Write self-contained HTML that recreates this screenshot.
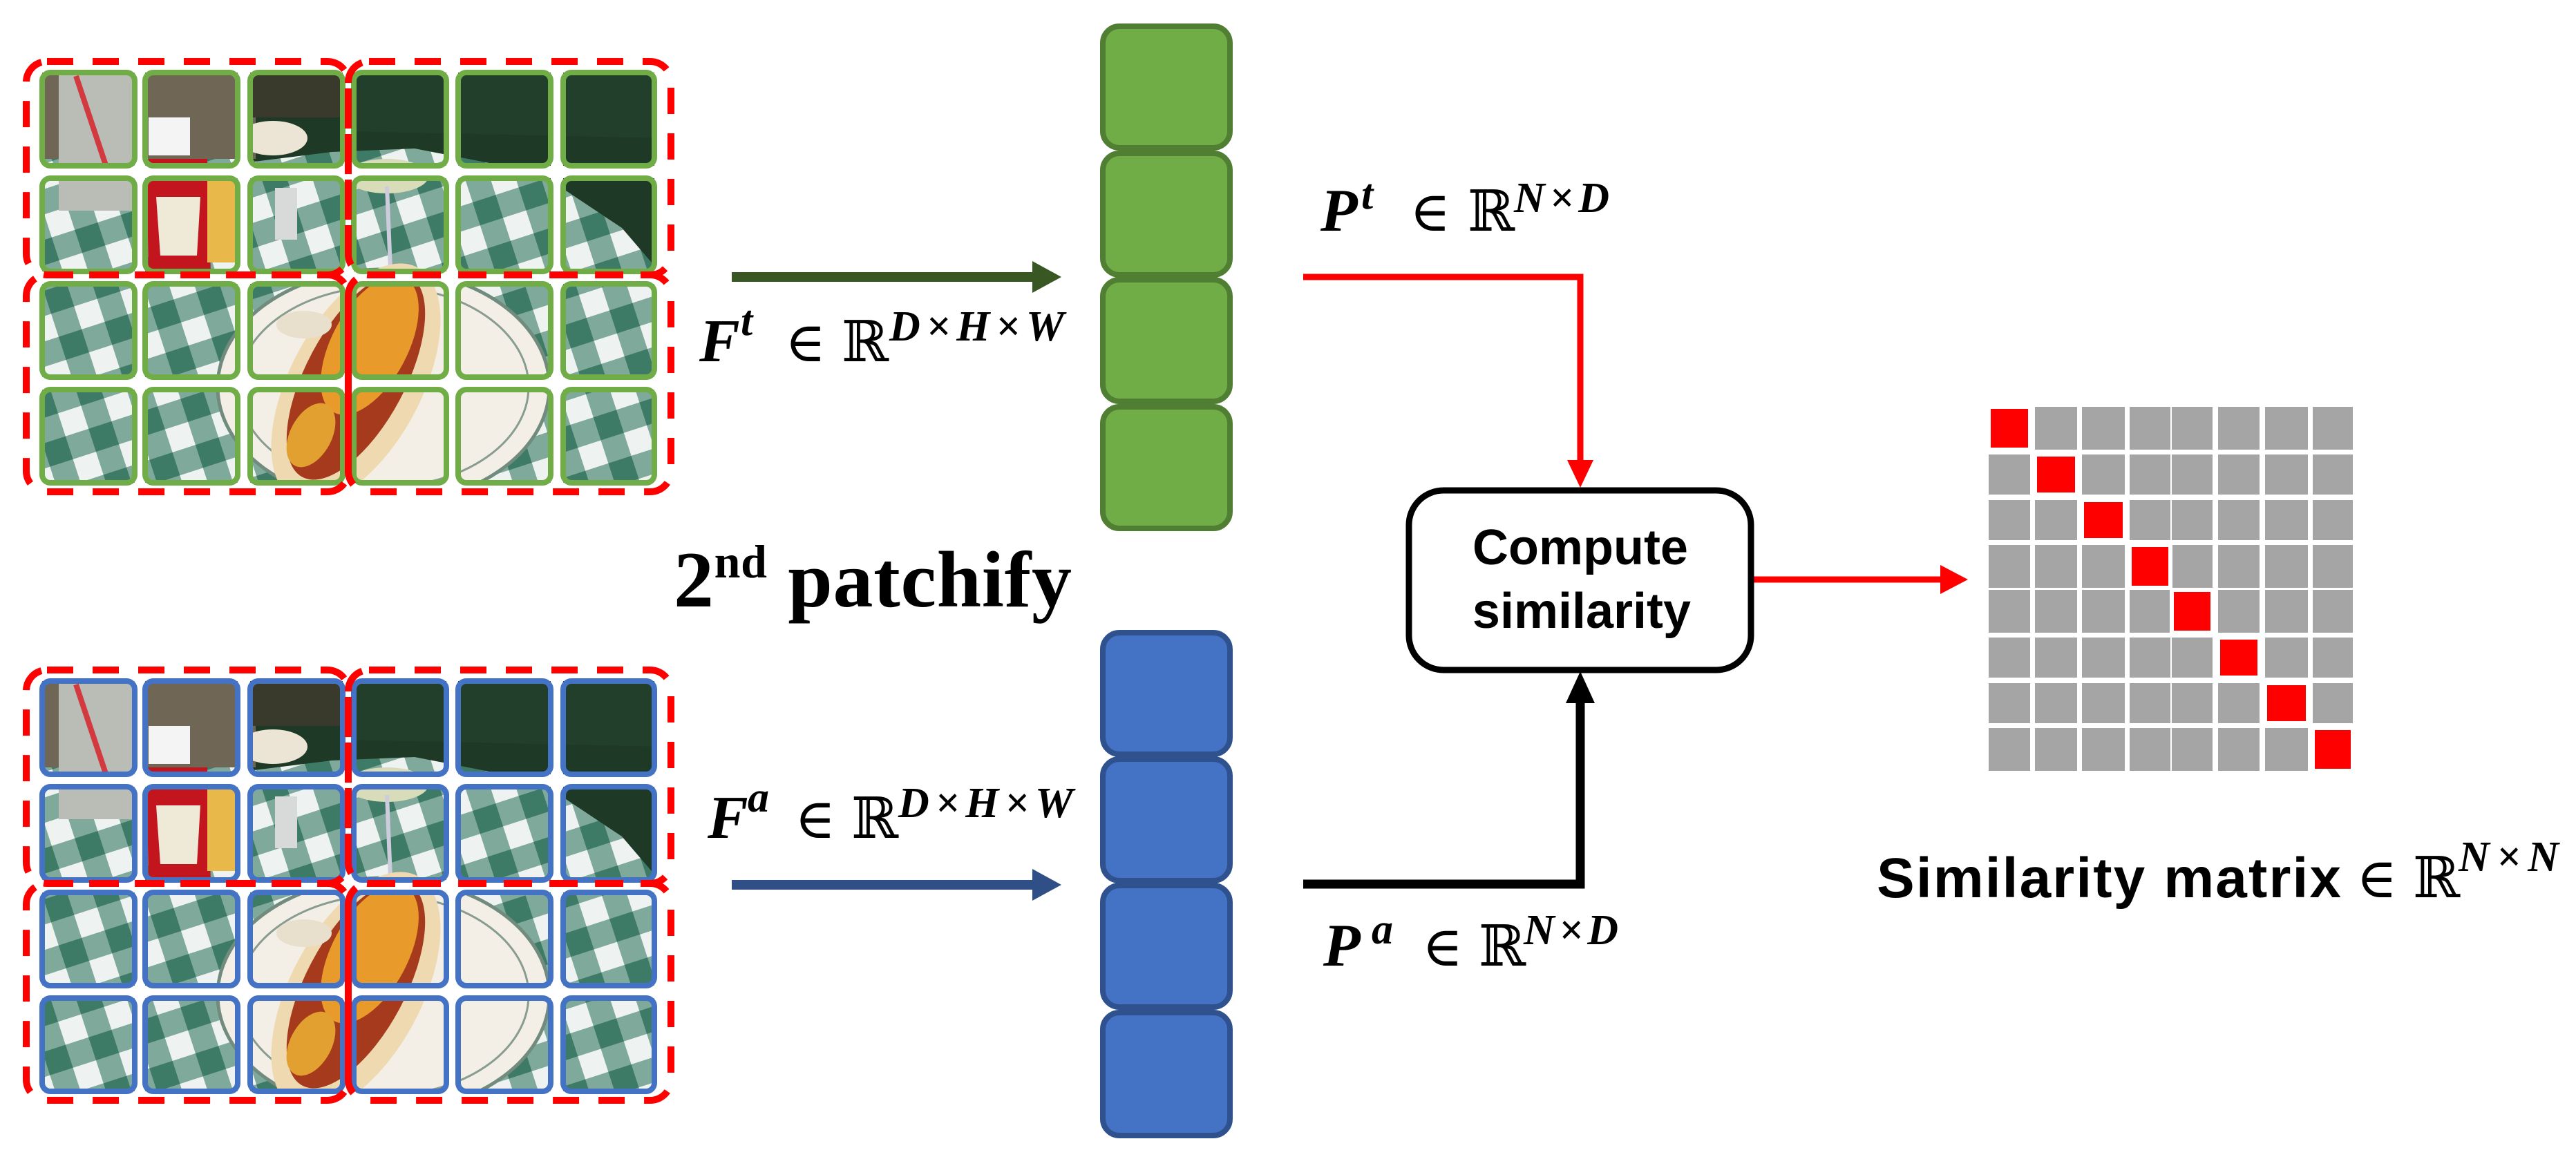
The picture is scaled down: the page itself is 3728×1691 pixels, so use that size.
<!DOCTYPE html>
<html><head><meta charset="utf-8">
<style>html,body{margin:0;padding:0;background:#fff;}svg{display:block;}</style>
</head><body>
<svg width="3728" height="1691" viewBox="0 0 3728 1691" xmlns="http://www.w3.org/2000/svg">
<defs>
  <pattern id="chk" width="70" height="70" patternUnits="userSpaceOnUse" patternTransform="rotate(-18)">
    <rect width="70" height="70" fill="#eef3f1"/>
    <rect width="35" height="70" fill="#7fa99a"/>
    <rect width="70" height="35" fill="#7fa99a"/>
    <rect width="35" height="35" fill="#3d7b66"/>
  </pattern>
  <g id="scene">
    <rect x="40" y="90" width="930" height="630" fill="url(#chk)"/>
    <polygon points="360,100 960,100 960,400 900,330 780,250 600,215 480,220 360,235" fill="#1e3a26"/>
    <polygon points="500,100 960,100 960,200 500,190" fill="#223f2b"/>
    <rect x="50" y="100" width="320" height="130" fill="#6f6656"/>
    <rect x="360" y="100" width="140" height="70" fill="#3a3a2c"/>
    <rect x="85" y="105" width="110" height="200" fill="#b9bdb6"/>
    <line x1="110" y1="110" x2="160" y2="260" stroke="#d23a40" stroke-width="8"/>
    <rect x="215" y="170" width="60" height="55" fill="#f4f4f4"/>
    <path d="M212,230 L300,230 L305,395 L215,395 Z" fill="#c2151d"/>
    <path d="M226,285 L290,285 L285,370 L232,370 Z" fill="#efe9d8"/>
    <rect x="300" y="240" width="40" height="140" fill="#e8b84a"/>
    <ellipse cx="395" cy="200" rx="50" ry="25" fill="#ece5d6"/>
    <rect x="398" y="272" width="32" height="75" fill="#d7dad9"/>
    <ellipse cx="560" cy="255" rx="60" ry="25" fill="#d8dcb8"/>
    <line x1="560" y1="270" x2="565" y2="390" stroke="#ccd" stroke-width="6"/>
    <ellipse cx="555" cy="560" rx="240" ry="170" fill="#f3efe6" stroke="#718c7e" stroke-width="5"/>
    <ellipse cx="555" cy="560" rx="210" ry="145" fill="none" stroke="#889c90" stroke-width="3"/>
    <ellipse cx="515" cy="555" rx="190" ry="95" transform="rotate(-62 515 555)" fill="#efd9b0"/>
    <ellipse cx="515" cy="545" rx="165" ry="72" transform="rotate(-62 515 545)" fill="#a53a1c"/>
    <ellipse cx="535" cy="500" rx="110" ry="55" transform="rotate(-62 535 500)" fill="#e89a2a"/>
    <ellipse cx="450" cy="630" rx="50" ry="30" transform="rotate(-62 450 630)" fill="#e2a030"/>
    <ellipse cx="440" cy="470" rx="40" ry="20" fill="#e8e0cc"/>
  </g>
  <clipPath id="cp">
    <rect x="61" y="105" width="134" height="135"/><rect x="210" y="105" width="134" height="135"/><rect x="362" y="105" width="134" height="135"/><rect x="512" y="105" width="134" height="135"/><rect x="663" y="105" width="134" height="135"/><rect x="815" y="105" width="132" height="135"/>
    <rect x="61" y="258" width="134" height="135"/><rect x="210" y="258" width="134" height="135"/><rect x="362" y="258" width="134" height="135"/><rect x="512" y="258" width="134" height="135"/><rect x="663" y="258" width="134" height="135"/><rect x="815" y="258" width="132" height="135"/>
    <rect x="61" y="411" width="134" height="135"/><rect x="210" y="411" width="134" height="135"/><rect x="362" y="411" width="134" height="135"/><rect x="512" y="411" width="134" height="135"/><rect x="663" y="411" width="134" height="135"/><rect x="815" y="411" width="132" height="135"/>
    <rect x="61" y="564" width="134" height="135"/><rect x="210" y="564" width="134" height="135"/><rect x="362" y="564" width="134" height="135"/><rect x="512" y="564" width="134" height="135"/><rect x="663" y="564" width="134" height="135"/><rect x="815" y="564" width="132" height="135"/>
  </clipPath>
  <g id="borders" fill="none" stroke-width="8">
    <rect x="61" y="105" width="134" height="135" rx="12"/><rect x="210" y="105" width="134" height="135" rx="12"/><rect x="362" y="105" width="134" height="135" rx="12"/><rect x="512" y="105" width="134" height="135" rx="12"/><rect x="663" y="105" width="134" height="135" rx="12"/><rect x="815" y="105" width="132" height="135" rx="12"/>
    <rect x="61" y="258" width="134" height="135" rx="12"/><rect x="210" y="258" width="134" height="135" rx="12"/><rect x="362" y="258" width="134" height="135" rx="12"/><rect x="512" y="258" width="134" height="135" rx="12"/><rect x="663" y="258" width="134" height="135" rx="12"/><rect x="815" y="258" width="132" height="135" rx="12"/>
    <rect x="61" y="411" width="134" height="135" rx="12"/><rect x="210" y="411" width="134" height="135" rx="12"/><rect x="362" y="411" width="134" height="135" rx="12"/><rect x="512" y="411" width="134" height="135" rx="12"/><rect x="663" y="411" width="134" height="135" rx="12"/><rect x="815" y="411" width="132" height="135" rx="12"/>
    <rect x="61" y="564" width="134" height="135" rx="12"/><rect x="210" y="564" width="134" height="135" rx="12"/><rect x="362" y="564" width="134" height="135" rx="12"/><rect x="512" y="564" width="134" height="135" rx="12"/><rect x="663" y="564" width="134" height="135" rx="12"/><rect x="815" y="564" width="132" height="135" rx="12"/>
  </g>
  <g id="dash" fill="none" stroke="#ff0000" stroke-width="10" stroke-dasharray="38 28">
    <rect x="38" y="89" width="466" height="309" rx="30"/>
    <rect x="504" y="89" width="467" height="309" rx="30"/>
    <rect x="38" y="398" width="466" height="314" rx="30"/>
    <rect x="504" y="398" width="467" height="314" rx="30"/>
  </g>
</defs>

<g>
  <use href="#scene" clip-path="url(#cp)"/>
  <use href="#borders" stroke="#70ad47"/>
  <use href="#dash"/>
</g>
<g transform="translate(0,881)">
  <use href="#scene" clip-path="url(#cp)"/>
  <use href="#borders" stroke="#4472c4"/>
  <use href="#dash"/>
</g>

<rect x="1059" y="394" width="440" height="14" fill="#385723"/>
<polygon points="1494,378 1536,401 1494,424" fill="#385723"/>
<rect x="1059" y="1274" width="440" height="14" fill="#2f4f86"/>
<polygon points="1494,1258 1536,1281 1494,1304" fill="#2f4f86"/>

<g fill="#70ad47" stroke="#507e32" stroke-width="8">
  <rect x="1596" y="38" width="184" height="176" rx="24"/>
  <rect x="1596" y="222" width="184" height="176" rx="24"/>
  <rect x="1596" y="405" width="184" height="176" rx="24"/>
  <rect x="1596" y="589" width="184" height="176" rx="24"/>
</g>
<g fill="#4472c4" stroke="#2f528f" stroke-width="8">
  <rect x="1596" y="916" width="184" height="176" rx="24"/>
  <rect x="1596" y="1099" width="184" height="176" rx="24"/>
  <rect x="1596" y="1282" width="184" height="176" rx="24"/>
  <rect x="1596" y="1466" width="184" height="178" rx="24"/>
</g>

<g font-family="Liberation Serif, DejaVu Serif, serif">
  <text x="1012" y="523" font-size="88" font-weight="bold" font-style="italic">F</text>
  <text x="1072" y="485" font-size="62" font-weight="bold" font-style="italic">t</text>
  <text x="1136" y="523" font-size="80" font-family="DejaVu Serif, serif">∈</text>
  <text x="1218" y="523" font-size="82" font-family="DejaVu Serif, serif">ℝ</text>
  <text x="1287" y="493" font-size="62" font-weight="bold" font-style="italic" textLength="253">D×H×W</text>

  <text x="1024" y="1213" font-size="88" font-weight="bold" font-style="italic">F</text>
  <text x="1082" y="1175" font-size="62" font-weight="bold" font-style="italic">a</text>
  <text x="1150" y="1213" font-size="80" font-family="DejaVu Serif, serif">∈</text>
  <text x="1232" y="1213" font-size="82" font-family="DejaVu Serif, serif">ℝ</text>
  <text x="1300" y="1183" font-size="62" font-weight="bold" font-style="italic" textLength="253">D×H×W</text>

  <text x="975" y="878" font-size="116" font-weight="bold" textLength="576">2<tspan font-size="68" dy="-42">nd</tspan><tspan dy="42"> patchify</tspan></text>

  <text x="1911" y="334" font-size="88" font-weight="bold" font-style="italic">P</text>
  <text x="1970" y="302" font-size="62" font-weight="bold" font-style="italic">t</text>
  <text x="2040" y="334" font-size="80" font-family="DejaVu Serif, serif">∈</text>
  <text x="2124" y="334" font-size="82" font-family="DejaVu Serif, serif">ℝ</text>
  <text x="2191" y="307" font-size="62" font-weight="bold" font-style="italic" textLength="138">N×D</text>

  <text x="1915" y="1398" font-size="88" font-weight="bold" font-style="italic">P</text>
  <text x="1985" y="1366" font-size="62" font-weight="bold" font-style="italic">a</text>
  <text x="2058" y="1398" font-size="80" font-family="DejaVu Serif, serif">∈</text>
  <text x="2140" y="1398" font-size="82" font-family="DejaVu Serif, serif">ℝ</text>
  <text x="2205" y="1367" font-size="62" font-weight="bold" font-style="italic" textLength="137">N×D</text>
</g>

<polyline points="1886,401 2287,401 2287,670" fill="none" stroke="#ff0000" stroke-width="9"/>
<polygon points="2268,666 2306,666 2287,706" fill="#ff0000"/>
<polyline points="1886,1280 2287,1280 2287,1010" fill="none" stroke="#000" stroke-width="13"/>
<polygon points="2266,1018 2308,1018 2287,972" fill="#000"/>
<line x1="2538" y1="839" x2="2812" y2="839" stroke="#ff0000" stroke-width="9"/>
<polygon points="2808,818 2848,839 2808,860" fill="#ff0000"/>

<rect x="2039" y="710" width="495" height="260" rx="50" fill="#fff" stroke="#000" stroke-width="9"/>
<g font-family="Liberation Sans, DejaVu Sans, sans-serif" font-weight="bold" text-anchor="middle">
  <text x="2287" y="817" font-size="72">Compute</text>
  <text x="2289" y="909" font-size="72">similarity</text>
</g>

<g fill="#a5a5a5">
  <rect x="2878" y="589" width="60" height="62"/><rect x="2945" y="589" width="61" height="62"/><rect x="3013" y="589" width="62" height="62"/><rect x="3082" y="589" width="59" height="62"/><rect x="3143" y="589" width="59" height="62"/><rect x="3210" y="589" width="60" height="62"/><rect x="3278" y="589" width="62" height="62"/><rect x="3347" y="589" width="58" height="62"/>
  <rect x="2878" y="658" width="60" height="58"/><rect x="2945" y="658" width="61" height="58"/><rect x="3013" y="658" width="62" height="58"/><rect x="3082" y="658" width="59" height="58"/><rect x="3143" y="658" width="59" height="58"/><rect x="3210" y="658" width="60" height="58"/><rect x="3278" y="658" width="62" height="58"/><rect x="3347" y="658" width="58" height="58"/>
  <rect x="2878" y="724" width="60" height="58"/><rect x="2945" y="724" width="61" height="58"/><rect x="3013" y="724" width="62" height="58"/><rect x="3082" y="724" width="59" height="58"/><rect x="3143" y="724" width="59" height="58"/><rect x="3210" y="724" width="60" height="58"/><rect x="3278" y="724" width="62" height="58"/><rect x="3347" y="724" width="58" height="58"/>
  <rect x="2878" y="789" width="60" height="62"/><rect x="2945" y="789" width="61" height="62"/><rect x="3013" y="789" width="62" height="62"/><rect x="3082" y="789" width="59" height="62"/><rect x="3143" y="789" width="59" height="62"/><rect x="3210" y="789" width="60" height="62"/><rect x="3278" y="789" width="62" height="62"/><rect x="3347" y="789" width="58" height="62"/>
  <rect x="2878" y="854" width="60" height="62"/><rect x="2945" y="854" width="61" height="62"/><rect x="3013" y="854" width="62" height="62"/><rect x="3082" y="854" width="59" height="62"/><rect x="3143" y="854" width="59" height="62"/><rect x="3210" y="854" width="60" height="62"/><rect x="3278" y="854" width="62" height="62"/><rect x="3347" y="854" width="58" height="62"/>
  <rect x="2878" y="923" width="60" height="58"/><rect x="2945" y="923" width="61" height="58"/><rect x="3013" y="923" width="62" height="58"/><rect x="3082" y="923" width="59" height="58"/><rect x="3143" y="923" width="59" height="58"/><rect x="3210" y="923" width="60" height="58"/><rect x="3278" y="923" width="62" height="58"/><rect x="3347" y="923" width="58" height="58"/>
  <rect x="2878" y="989" width="60" height="58"/><rect x="2945" y="989" width="61" height="58"/><rect x="3013" y="989" width="62" height="58"/><rect x="3082" y="989" width="59" height="58"/><rect x="3143" y="989" width="59" height="58"/><rect x="3210" y="989" width="60" height="58"/><rect x="3278" y="989" width="62" height="58"/><rect x="3347" y="989" width="58" height="58"/>
  <rect x="2878" y="1054" width="60" height="62"/><rect x="2945" y="1054" width="61" height="62"/><rect x="3013" y="1054" width="62" height="62"/><rect x="3082" y="1054" width="59" height="62"/><rect x="3143" y="1054" width="59" height="62"/><rect x="3210" y="1054" width="60" height="62"/><rect x="3278" y="1054" width="62" height="62"/><rect x="3347" y="1054" width="58" height="62"/>
</g>
<g fill="#ff0000" stroke="#fff" stroke-width="6">
  <rect x="2878" y="589" width="60" height="62"/>
  <rect x="2945" y="658" width="61" height="58"/>
  <rect x="3013" y="724" width="62" height="58"/>
  <rect x="3082" y="789" width="59" height="62"/>
  <rect x="3143" y="854" width="59" height="62"/>
  <rect x="3210" y="923" width="60" height="58"/>
  <rect x="3278" y="989" width="62" height="58"/>
  <rect x="3347" y="1054" width="58" height="62"/>
</g>

<text x="2716" y="1299" font-family="Liberation Sans, DejaVu Sans, sans-serif" font-weight="bold" font-size="82" textLength="672">Similarity matrix</text>
<text x="3410" y="1299" font-family="DejaVu Serif, serif" font-size="80">∈</text>
<text x="3492" y="1299" font-family="DejaVu Serif, serif" font-size="82">ℝ</text>
<text x="3558" y="1261" font-family="Liberation Serif, serif" font-weight="bold" font-style="italic" font-size="62" textLength="145">N×N</text>
</svg>
</body></html>
